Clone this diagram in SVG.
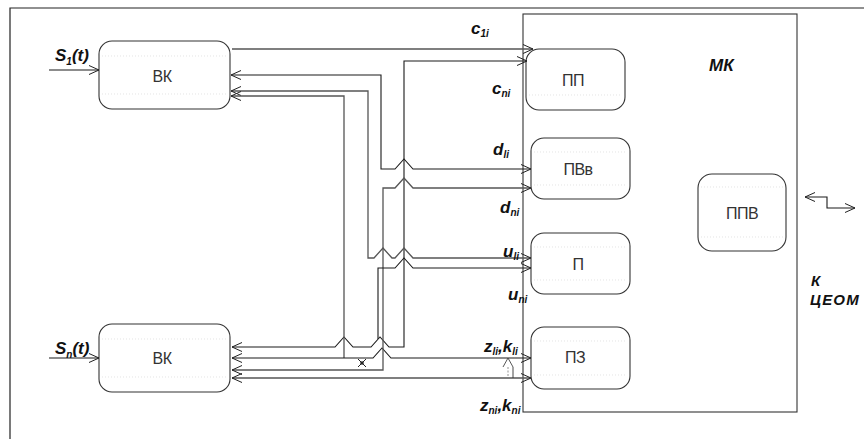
<svg xmlns="http://www.w3.org/2000/svg" width="864" height="439" viewBox="0 0 864 439">
<defs>
<marker id="ah" viewBox="0 0 10 10" refX="10" refY="5" markerWidth="10" markerHeight="10" markerUnits="userSpaceOnUse" orient="auto-start-reverse">
<path d="M0,0.5 L10,5 L0,9.5" fill="none" stroke="#222" stroke-width="1"/>
</marker>
<style>
.frame{fill:none;stroke:#222;stroke-width:1.2}
.box{fill:#fff;stroke:#333;stroke-width:1.1}
.shade{stroke:#d8d8d8;stroke-width:0.7;stroke-dasharray:1 2;fill:none}
.ln{fill:none;stroke:#1a1a1a;stroke-width:1.1}
.lg{fill:none;stroke:#555;stroke-width:1.3}
.bl{font-family:"Liberation Sans",Arial,sans-serif;font-size:16px;fill:#333;text-anchor:middle;letter-spacing:-0.5px}
.lab{font-family:"Liberation Sans",Arial,sans-serif;font-size:17px;font-weight:bold;font-style:italic;fill:#111}
.sub{font-size:10px}
.side{font-size:15px;letter-spacing:1.2px}
</style>
</defs>
<rect width="864" height="439" fill="#fff"/>
<path class="frame" d="M10,439 V8 H864"/>
<g id="MK">
<rect x="523" y="14" width="274" height="398" fill="none" stroke="#333" stroke-width="1.1"/>
<text class="lab" x="709" y="71">МК</text>
</g>
<g id="BK1">
<rect class="box" x="99" y="41" width="131" height="68" rx="13"/>
<path class="shade" d="M102,56 H227 M102,94 H227"/>
<text class="bl" x="162" y="82">ВК</text>
</g>
<g id="BKn">
<rect class="box" x="99" y="324" width="131" height="68" rx="13"/>
<path class="shade" d="M102,339 H227 M102,377 H227"/>
<text class="bl" x="162" y="364">ВК</text>
</g>
<g id="PP">
<rect class="box" x="526" y="49" width="99" height="61" rx="13"/>
<path class="shade" d="M529,95 H622"/>
<text class="bl" x="573" y="86">ПП</text>
</g>
<g id="PVv">
<rect class="box" x="531" y="138" width="99" height="61" rx="13"/>
<path class="shade" d="M534,152 H627 M534,185 H627"/>
<text class="bl" x="578" y="175">ПВв</text>
</g>
<g id="P">
<rect class="box" x="531" y="233" width="99" height="61" rx="13"/>
<path class="shade" d="M534,247 H627 M534,280 H627"/>
<text class="bl" x="578" y="270">П</text>
</g>
<g id="PZ">
<rect class="box" x="531" y="327" width="99" height="62" rx="13"/>
<path class="shade" d="M534,341 H627 M534,375 H627"/>
<text class="bl" x="575" y="363">ПЗ</text>
</g>
<g id="PPV">
<rect class="box" x="698" y="174" width="88" height="77" rx="14"/>
<path class="shade" d="M701,187 H783 M701,237 H783"/>
<text class="bl" x="742" y="219">ППВ</text>
</g>
<g id="connectors">
<path class="ln" d="M49,70 H99" marker-end="url(#ah)"/>
<path class="ln" d="M49,358 H99" marker-end="url(#ah)"/>
<path class="lg" d="M232,49 H533" marker-end="url(#ah)"/>
<path class="ln" d="M527,61 H404 V347 H389 L380,337 L371,347 H353 L344,337 L335,347 H232" marker-start="url(#ah)" marker-end="url(#ah)"/>
<path class="ln" d="M231,75 H381 V169 H395 L404,159 L413,169 H531" marker-start="url(#ah)" marker-end="url(#ah)"/>
<path class="lg" d="M231,91 H368 V258 H374 L383,248 L392,258 H395 L404,248 L413,258 H531" marker-start="url(#ah)" marker-end="url(#ah)"/>
<path class="lg" d="M231,96 H344 V358" marker-start="url(#ah)"/>
<path class="ln" d="M232,358 H373 L382,348 L391,358 H531" marker-start="url(#ah)" marker-end="url(#ah)"/>
<path class="lg" d="M232,370 H383 V188 H395 L404,178 L413,188 H531" marker-start="url(#ah)" marker-end="url(#ah)"/>
<path class="ln" d="M378,339 V268 H395 L404,258 L413,268 H531" marker-end="url(#ah)"/>
<path class="lg" d="M232,378 H531" marker-start="url(#ah)" marker-end="url(#ah)"/>
<path class="ln" d="M805,197 H827 V208 H855" marker-start="url(#ah)" marker-end="url(#ah)"/>
<path d="M358,359 L366,367 M358,367 L366,359" stroke="#222" stroke-width="1" fill="none"/>
<circle cx="362" cy="363" r="1.8" fill="#222"/>
<path d="M503,367 L508,358 L513,367" fill="none" stroke="#444" stroke-width="0.9"/>
<path d="M508,367 V377" fill="none" stroke="#888" stroke-width="0.9" stroke-dasharray="2 1.5"/>
<path d="M513,367 V378" fill="none" stroke="#333" stroke-width="0.9"/>
</g>
<g id="labels">
<text class="lab" x="55" y="61">S<tspan class="sub" dy="4">1</tspan><tspan dy="-4">(t)</tspan></text>
<text class="lab" x="55" y="354">S<tspan class="sub" dy="4">n</tspan><tspan dy="-4">(t)</tspan></text>
<text class="lab" x="471" y="34">c<tspan class="sub" dy="3">1i</tspan></text>
<text class="lab" x="492" y="94">c<tspan class="sub" dy="3">ni</tspan></text>
<text class="lab" x="493" y="155">d<tspan class="sub" dy="3">li</tspan></text>
<text class="lab" x="500" y="213">d<tspan class="sub" dy="3">ni</tspan></text>
<text class="lab" x="503" y="257">u<tspan class="sub" dy="3">li</tspan></text>
<text class="lab" x="508" y="300">u<tspan class="sub" dy="3">ni</tspan></text>
<text class="lab" x="484" y="352">z<tspan class="sub" dy="3">li</tspan><tspan dy="-3">,k</tspan><tspan class="sub" dy="3">li</tspan></text>
<text class="lab" x="480" y="411">z<tspan class="sub" dy="3">ni</tspan><tspan dy="-3">,k</tspan><tspan class="sub" dy="3">ni</tspan></text>
<text class="lab side" x="811" y="286">К</text>
<text class="lab side" x="810" y="305">ЦЕОМ</text>
</g>
</svg>
